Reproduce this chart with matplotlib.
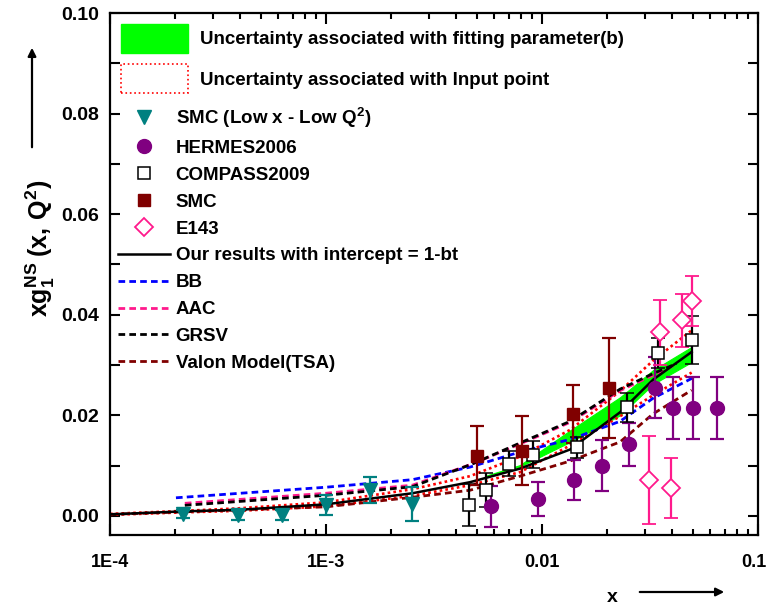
import matplotlib
matplotlib.use('Agg')
import matplotlib.pyplot as plt
from matplotlib.lines import Line2D
from matplotlib.patches import Patch, FancyArrowPatch
from matplotlib.transforms import ScaledTranslation

plt.rcParams['font.family'] = ['Liberation Sans', 'DejaVu Sans']
plt.rcParams['font.weight'] = 'bold'
plt.rcParams['mathtext.fontset'] = 'custom'
plt.rcParams['mathtext.rm'] = 'Liberation Sans:bold'
plt.rcParams['mathtext.it'] = 'Liberation Sans:bold'
plt.rcParams['mathtext.bf'] = 'Liberation Sans:bold'
plt.rcParams['mathtext.default'] = 'rm'

# data points
smc_lowx_x = [2.18e-4, 3.93e-4, 6.24e-4, 1.0e-3, 1.59e-3, 2.51e-3]
smc_lowx_y = [0.0004, 0.0001, 0.0001, 0.0021, 0.0051, 0.0023]
smc_lowx_err = [0.0008, 0.0010, 0.0010, 0.0020, 0.0026, 0.0034]

hermes_x = [5.81e-3, 9.55e-3, 0.01412, 0.01896, 0.02536, 0.03325, 0.04055, 0.0501, 0.0644]
hermes_y = [0.0019, 0.0034, 0.0072, 0.0100, 0.0142, 0.0255, 0.0214, 0.0214, 0.0214]
hermes_err = [0.0041, 0.0034, 0.0040, 0.0050, 0.0043, 0.0060, 0.0062, 0.0062, 0.0062]

compass_x = [4.61e-3, 5.49e-3, 7.06e-3, 9.06e-3, 0.01448, 0.02466, 0.03444, 0.0493]
compass_y = [0.0021, 0.0051, 0.0104, 0.0122, 0.0136, 0.0216, 0.0324, 0.0350]
compass_err = [0.0042, 0.0034, 0.0025, 0.0027, 0.0020, 0.0029, 0.0030, 0.0048]

smc_x = [5.02e-3, 8.05e-3, 0.01396, 0.0205]
smc_y = [0.0120, 0.0130, 0.0203, 0.0254]
smc_err = [0.0059, 0.0069, 0.0058, 0.0100]

e143_x = [0.0312, 0.0394, 0.03516, 0.0443, 0.0493]
e143_y = [0.0071, 0.0056, 0.0365, 0.0389, 0.0428]
e143_err = [0.0087, 0.0060, 0.0064, 0.0053, 0.0050]

# curves
ours_x = [1e-4, 2.18e-4, 3.93e-4, 1e-3, 2.51e-3, 4.64e-3, 7.91e-3, 0.01348, 0.02297, 0.0327, 0.0493]
ours_y = [0.0003, 0.0009, 0.0012, 0.0023, 0.0045, 0.0067, 0.0094, 0.0132, 0.0206, 0.0271, 0.0326]
input_hi = [0.0004, 0.0010, 0.0015, 0.0027, 0.0053, 0.0079, 0.0118, 0.0171, 0.0248, 0.0309, 0.0369]
input_lo = [0.0002, 0.0007, 0.0010, 0.0019, 0.0040, 0.0061, 0.0087, 0.0140, 0.0198, 0.0240, 0.0285]

band_x = [0.0055, 0.0079, 0.0135, 0.0230, 0.0327, 0.0493]
band_lo = [0.0080, 0.0098, 0.0147, 0.0200, 0.0262, 0.0306]
band_hi = [0.0080, 0.0101, 0.0170, 0.0236, 0.0290, 0.0336]

bb_x = [2.02e-4, 1e-3, 2.51e-3, 4.64e-3, 7.91e-3, 0.01348, 0.02297, 0.0327, 0.0502]
bb_y = [0.0036, 0.0057, 0.0072, 0.0097, 0.0127, 0.0152, 0.0188, 0.0234, 0.0275]

grsv_x = [2.22e-4, 1e-3, 2.51e-3, 4.8e-3, 7.91e-3, 0.01348, 0.02297, 0.0327, 0.042]
grsv_y = [0.0021, 0.0041, 0.0058, 0.0104, 0.0145, 0.0188, 0.0252, 0.0283, 0.0303]
aac_y = [0.0025, 0.0045, 0.0061, 0.0104, 0.0143, 0.0186, 0.0249, 0.0280, 0.0302]

valon_x = [1e-4, 2.18e-4, 1e-3, 2.51e-3, 4.64e-3, 7.91e-3, 0.01348, 0.02297, 0.0327, 0.0493]
valon_y = [0.0003, 0.0008, 0.0018, 0.0037, 0.0051, 0.0079, 0.0109, 0.0147, 0.0203, 0.0250]

teal = '#008080'
purple = '#800080'
darkred = '#800000'
pink = '#FF1A8C'
dash = (2.4, 1.5)
dots = (1, 1.2)

fig = plt.figure(figsize=(7.69, 6.08), dpi=100)
ax = fig.add_axes([110 / 769, 1 - 535 / 608, 648 / 769, 522 / 608])

ax.fill_between(band_x, band_lo, band_hi, color='#00FF00', lw=0.8, zorder=1)
ax.plot(ours_x, input_hi, color='red', lw=1.9, dashes=dots, zorder=2)
ax.plot(ours_x, input_lo, color='red', lw=1.9, dashes=dots, zorder=2)
ax.plot(bb_x, bb_y, color='blue', lw=2, dashes=dash, zorder=2)
ax.plot(grsv_x, aac_y, color=pink, lw=2, dashes=dash, zorder=2)
ax.plot(grsv_x, grsv_y, color='black', lw=2, dashes=dash, zorder=2)
ax.plot(valon_x, valon_y, color=darkred, lw=2, dashes=dash, zorder=2)
ax.plot(ours_x, ours_y, '-', color='black', lw=1.8, zorder=3)

eb = dict(capsize=4.7, capthick=1.6, elinewidth=1.6, ls='none', zorder=4)
ax.errorbar(smc_lowx_x, smc_lowx_y, yerr=smc_lowx_err, fmt='v', color=teal, ms=10, **eb)
ax.errorbar(hermes_x, hermes_y, yerr=hermes_err, fmt='o', color=purple, ms=10, **eb)
ax.errorbar(compass_x, compass_y, yerr=compass_err, fmt='s', color='black', mfc='white', ms=8, mew=1.1, **eb)
ax.errorbar(smc_x, smc_y, yerr=smc_err, fmt='s', color=darkred, ms=8.5, **eb)
ax.errorbar(e143_x, e143_y, yerr=e143_err, fmt='D', color=pink, mfc='white', ms=9, mew=1.3, **eb)

ax.set_xscale('log')
ax.set_xlim(1e-4, 0.1)
ax.set_ylim(-0.0038, 0.10)
ax.set_xticks([1e-4, 1e-3, 1e-2, 1e-1])
ax.set_xticklabels(['1E-4', '1E-3', '0.01', '0.1'])
ax.set_yticks([0.0, 0.02, 0.04, 0.06, 0.08, 0.10])
ax.set_yticklabels(['0.00', '0.02', '0.04', '0.06', '0.08', '0.10'])
ax.set_yticks([0.01, 0.03, 0.05, 0.07, 0.09], minor=True)

ax.tick_params(axis='both', which='both', direction='in', top=True, right=True, width=1.5)
ax.tick_params(axis='x', which='major', length=8, labelsize=13, pad=13.5)
ax.tick_params(axis='x', which='minor', length=4.5)
ax.tick_params(axis='y', which='major', length=7, labelsize=14, pad=8)
ax.tick_params(axis='y', which='minor', length=7)
ax.tick_params(axis='x', which='both', labeltop=False, labelbottom=True)
for s in ax.spines.values():
    s.set_linewidth(1.6)

# keep the last x label inside the canvas
last = ax.get_xticklabels()[-1]
last.set_transform(last.get_transform() + ScaledTranslation(-0.04, 0, fig.dpi_scale_trans))

# legends
h1 = [Patch(facecolor='#00FF00', edgecolor='#00FF00'),
      Patch(facecolor='none', edgecolor='red', linestyle=':', lw=1.2)]
l1 = ['Uncertainty associated with fitting parameter(b)',
      'Uncertainty associated with Input point']
leg1 = ax.legend(h1, l1, loc='upper left', bbox_to_anchor=(0.017, 0.979), frameon=False,
                 fontsize=13.5, handlelength=3.57, handleheight=2.0, handletextpad=0.62,
                 labelspacing=0.6, borderpad=0, borderaxespad=0)
ax.add_artist(leg1)

h2 = [Line2D([], [], marker='v', color=teal, ms=10, ls='none'),
      Line2D([], [], marker='o', color=purple, ms=10, ls='none'),
      Line2D([], [], marker='s', color='black', mfc='white', ms=8, mew=1.1, ls='none'),
      Line2D([], [], marker='s', color=darkred, ms=8.5, ls='none'),
      Line2D([], [], marker='D', color=pink, mfc='white', ms=9, mew=1.3, ls='none'),
      Line2D([], [], color='black', lw=1.8),
      Line2D([], [], color='blue', lw=2, dashes=dash),
      Line2D([], [], color=pink, lw=2, dashes=dash),
      Line2D([], [], color='black', lw=2, dashes=dash),
      Line2D([], [], color=darkred, lw=2, dashes=dash)]
l2 = ['SMC (Low x - Low Q$^2$)', 'HERMES2006', 'COMPASS2009', 'SMC', 'E143',
      'Our results with intercept = 1-bt', 'BB', 'AAC', 'GRSV', 'Valon Model(TSA)']
ax.legend(h2, l2, loc='upper left', bbox_to_anchor=(0.012, 0.822), frameon=False,
          fontsize=13.5, handlelength=2.8, handletextpad=0.28, labelspacing=0.52,
          borderpad=0, borderaxespad=0)

# axis titles with arrows
fig.text(40 / 769, 1 - 248 / 608, r'$xg_1^{NS}\;(x,\,Q^2)$', rotation=90, fontsize=18,
         ha='center', va='center')
fig.text(612 / 769, 1 - 597 / 608, 'x', fontsize=14, ha='center', va='center')
fig.add_artist(FancyArrowPatch(
    (32 / 769, 1 - 150 / 608), (32 / 769, 1 - 45 / 608), transform=fig.transFigure,
    arrowstyle='-|>', mutation_scale=12, lw=1.6, color='black'))
fig.add_artist(FancyArrowPatch(
    (637 / 769, 1 - 592 / 608), (727 / 769, 1 - 592 / 608), transform=fig.transFigure,
    arrowstyle='-|>', mutation_scale=12, lw=1.6, color='black'))

fig.savefig('out.png', dpi=100)
